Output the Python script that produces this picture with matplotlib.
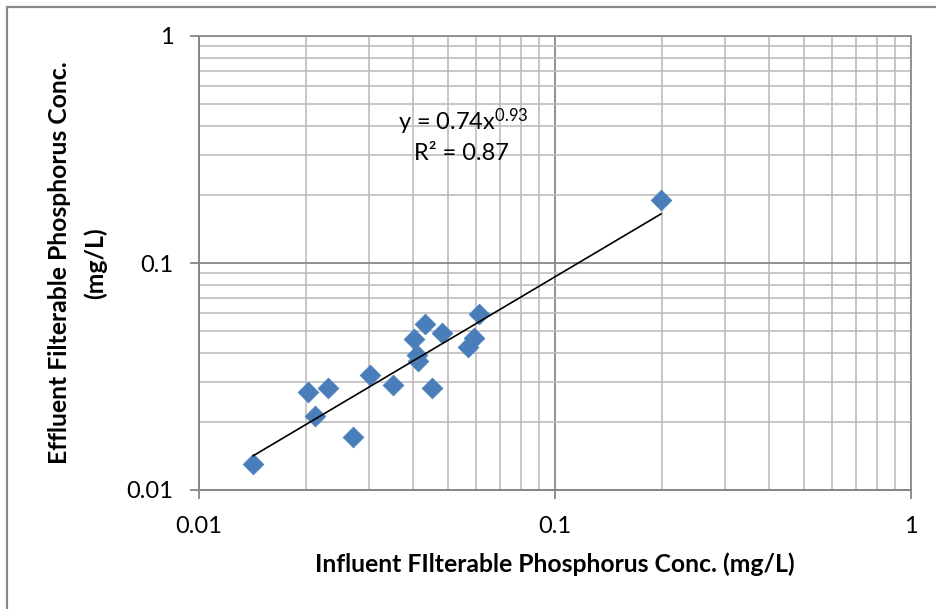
import matplotlib
matplotlib.use("Agg")
import matplotlib.pyplot as plt
from matplotlib.ticker import LogLocator, FixedLocator, FixedFormatter, NullFormatter
from matplotlib.patches import Rectangle
import numpy as np

plt.rcParams['font.family'] = ['Lato', 'DejaVu Sans']
plt.rcParams['mathtext.fontset'] = 'custom'
plt.rcParams['mathtext.rm'] = 'Lato'
plt.rcParams['mathtext.it'] = 'Lato:italic'

# Data (mg/L)
influent = [0.0142, 0.0202, 0.0212, 0.0231, 0.0271, 0.0303, 0.0351, 0.0402,
            0.0432, 0.0410, 0.0413, 0.0451, 0.0482, 0.0569, 0.0592, 0.0611, 0.1986]
effluent = [0.0130, 0.0270, 0.0212, 0.0281, 0.0171, 0.0321, 0.0290, 0.0463,
            0.0539, 0.0393, 0.0370, 0.0281, 0.0492, 0.0427, 0.0467, 0.0596, 0.1895]

fit_coef = 0.74
fit_exp = 0.93
fit_r2 = 0.87

tick_values = [0.01, 0.1, 1]
tick_labels = ['0.01', '0.1', '1']

fig = plt.figure(figsize=(9.36, 6.09), dpi=100)
ax = fig.add_axes([199/936, 1 - 490/609, (911 - 199)/936, (490 - 36)/609])

ax.set_xscale('log')
ax.set_yscale('log')
ax.set_xlim(0.01, 1)
ax.set_ylim(0.01, 1)

# grid
ax.xaxis.set_major_locator(FixedLocator(tick_values))
ax.yaxis.set_major_locator(FixedLocator(tick_values))
ax.xaxis.set_major_formatter(FixedFormatter(tick_labels))
ax.yaxis.set_major_formatter(FixedFormatter(tick_labels))
ax.xaxis.set_minor_locator(LogLocator(base=10, subs=np.arange(2, 10)))
ax.yaxis.set_minor_locator(LogLocator(base=10, subs=np.arange(2, 10)))
ax.xaxis.set_minor_formatter(NullFormatter())
ax.yaxis.set_minor_formatter(NullFormatter())
ax.grid(which='minor', color='#bdbdbd', linewidth=1.2)
ax.grid(which='major', color='#878787', linewidth=1.3)
ax.set_axisbelow(True)

for side in ['top', 'right']:
    ax.spines[side].set_color('#8c8c8c')
    ax.spines[side].set_linewidth(1.3)
for side in ['left', 'bottom']:
    ax.spines[side].set_color('#868686')
    ax.spines[side].set_linewidth(1.4)

ax.tick_params(which='major', length=6.5, width=1.3, color='#868686',
               labelsize=17, pad=12, labelcolor='black')
ax.tick_params(which='minor', length=0)

# data
ax.scatter(influent, effluent, marker='D', s=112, color='#4a7ebb',
           edgecolors='#4a7ebb', linewidths=0.5, zorder=3)

# power trendline
xf = np.logspace(np.log10(min(influent)), np.log10(max(influent)), 100)
ax.plot(xf, fit_coef * xf ** fit_exp, color='black', linewidth=1.2, zorder=4)

ax.text(0.371, 0.811, r'y = %.2fx$^{\mathrm{%.2f}}$' % (fit_coef, fit_exp),
        transform=ax.transAxes, ha='center', va='center', fontsize=17)
ax.text(0.369, 0.742, 'R² = %.2f' % fit_r2, transform=ax.transAxes,
        ha='center', va='center', fontsize=17)

ax.set_xlabel('Influent FIlterable Phosphorus Conc. (mg/L)', fontsize=17.8,
              fontweight='bold', labelpad=11)
ax.set_ylabel('Effluent Filterable Phosphorus Conc.\n(mg/L)', fontsize=17.8,
              fontweight='bold', labelpad=14, linespacing=1.65)

# chart border
fig.patches.append(Rectangle((6.5/936, -0.1), 1.2, 1 - 6.5/609 + 0.1,
                             transform=fig.transFigure, fill=False,
                             edgecolor='#898989', linewidth=1.6))

fig.savefig('out.png', dpi=100)
